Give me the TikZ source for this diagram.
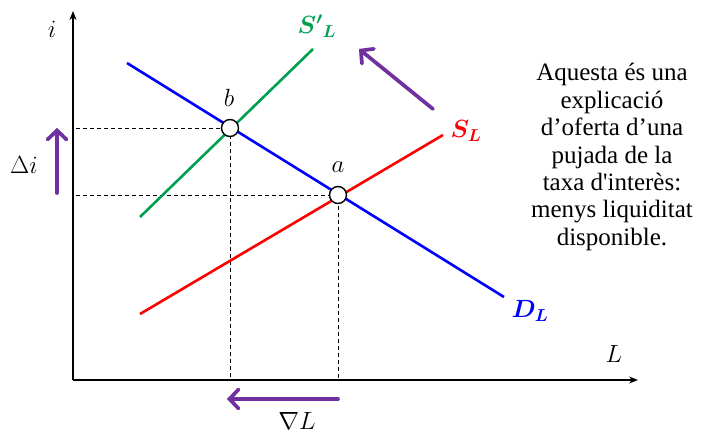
\documentclass[tikz,border=0pt]{standalone}
\usepackage{bm}
\usepackage{fontspec}
\setmainfont{Liberation Serif}[Ligatures=TeXOff]
\usetikzlibrary{arrows.meta}
\definecolor{myred}{RGB}{255,0,0}
\definecolor{myblue}{RGB}{0,0,255}
\definecolor{mygreen}{RGB}{0,160,80}
\definecolor{mypurple}{RGB}{112,48,160}
\begin{document}
\begin{tikzpicture}[x=1pt,y=-1pt,
  axis/.style={line width=1.6pt,-{Stealth[length=9pt,width=7pt]}},
  curve/.style={line width=2.6pt},
  guide/.style={line width=0.8pt,dash pattern=on 4pt off 3pt},
  eqpt/.style={circle,draw=black,fill=white,line width=1.4pt,minimum size=17pt,inner sep=0pt},
  lbl/.style={font=\fontsize{24}{28}\selectfont},
  shiftarrow/.style={line width=3.6pt,mypurple,line cap=round,-{Straight Barb[length=9pt,width=19pt,line cap=round]}},
  shiftshadow/.style={line width=3.6pt,black!25,line cap=round,-{Straight Barb[length=9pt,width=19pt,line cap=round]}},
  note/.style={align=center,font=\fontsize{25}{27.4}\selectfont}
]
\useasboundingbox (0,0) rectangle (724,433);
% axes
\coordinate (O) at (73,380);
\coordinate (ytip) at (73,11);
\coordinate (xtip) at (638,380);
\draw[axis] (O) -- (ytip);
\draw[axis] (O) -- (xtip);
% points
\coordinate (bpos) at (230,128);
\coordinate (apos) at (338,195);
\coordinate (by) at (76,128);
\coordinate (ay) at (76,195);
\coordinate (bx) at (230,380);
\coordinate (ax) at (338,380);
\draw[guide] (by) -- (bpos) -- (bx);
\draw[guide] (ay) -- (apos) -- (ax);
% curves
\coordinate (D1) at (127,63);
\coordinate (D2) at (504,297);
\coordinate (S1) at (140,314);
\coordinate (S2) at (443,135);
\coordinate (T1) at (140,217);
\coordinate (T2) at (313,49);
\draw[curve,myred] (S1) -- (S2);
\draw[curve,mygreen] (T1) -- (T2);
\draw[curve,myblue] (D1) -- (D2);
\node[eqpt] (b) at (bpos) {};
\node[eqpt] (a) at (apos) {};
% labels
\node[lbl] (ilab) at (52,29) {$i$};
\node[lbl,mygreen] (slab2) at (317,26) {$\bm{{S'}_{L}}$};
\node[lbl] (blab) at (229,98) {$b$};
\node[lbl] (alab) at (338,167) {$a$};
\node[lbl,myred] (slab) at (466,131) {$\bm{S_{L}}$};
\node[lbl,myblue] (dlab) at (530,311) {$\bm{D_{L}}$};
\node[lbl] (llab) at (614,354) {$L$};
\node[lbl] (nlab) at (297,421) {$\nabla L$};
\node[lbl] (dilab) at (24,165) {$\Delta i$};
% shift arrows
\coordinate (v1) at (57,193); \coordinate (v2) at (57,128);
\coordinate (d1) at (433,109); \coordinate (d2) at (359,49);
\coordinate (h1) at (338,399); \coordinate (h2) at (227,399);
\begin{scope}[shift={(1.5,1.8)}]
\draw[shiftshadow] (v1) -- (v2);
\draw[shiftshadow] (d1) -- (d2);
\draw[shiftshadow] (h1) -- (h2);
\end{scope}
\draw[shiftarrow] (v1) -- (v2);
\draw[shiftarrow] (d1) -- (d2);
\draw[shiftarrow] (h1) -- (h2);
% note
\node[note] (txt) at (612,157) {Aquesta és una\\explicació\\d’oferta d’una\\pujada de la\\taxa d'interès:\\menys liquiditat\\disponible.};
\end{tikzpicture}
\end{document}
